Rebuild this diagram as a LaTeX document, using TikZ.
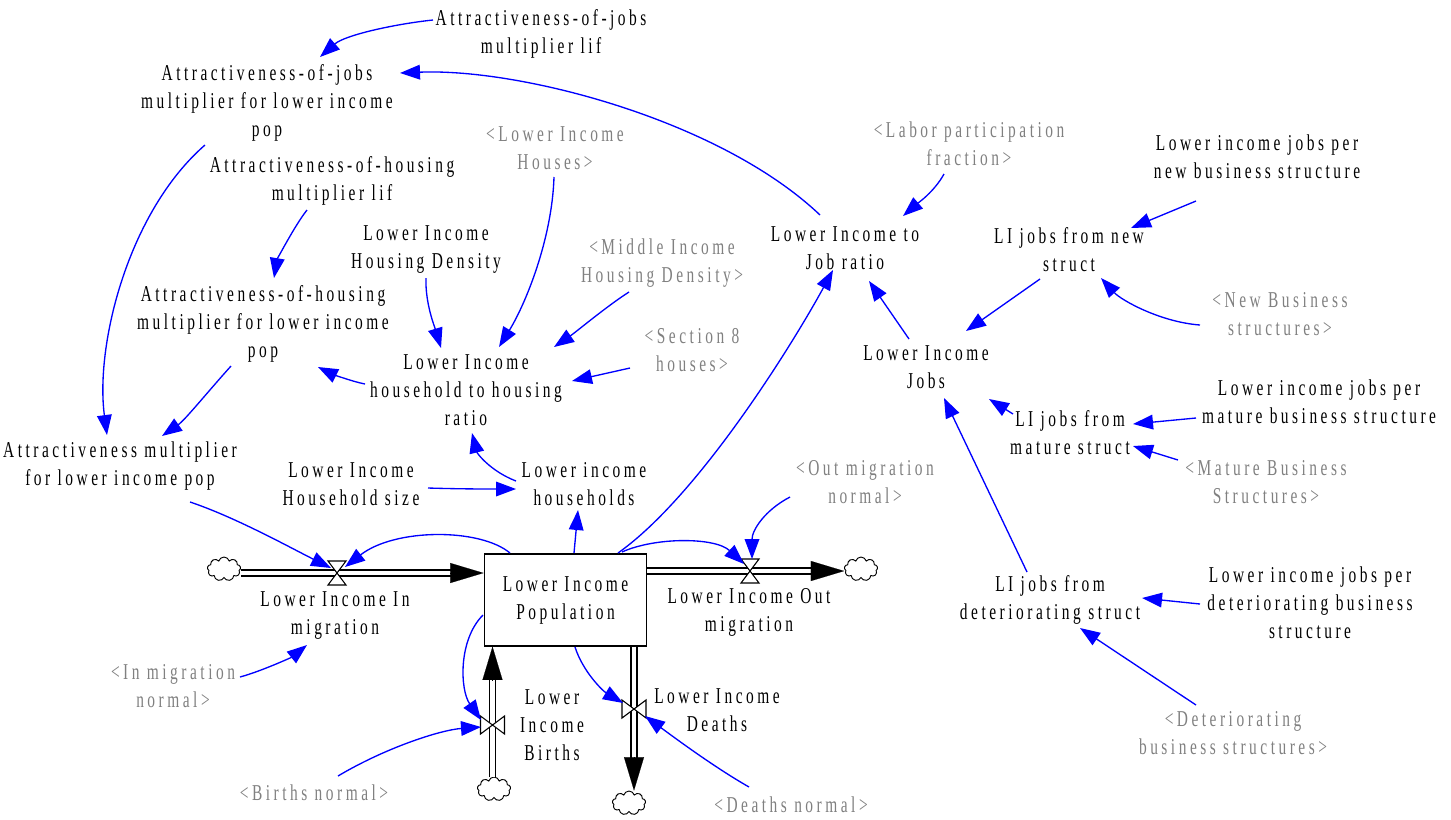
\documentclass[tikz,border=0pt]{standalone}
\usepackage{fontspec}
\setmainfont{Liberation Serif}[FakeStretch=0.68,LetterSpace=15.5]
\usetikzlibrary{arrows.meta,calc,shapes.symbols}
\definecolor{linkblue}{RGB}{0,0,255}
\definecolor{ghostgray}{RGB}{128,128,128}
\begin{document}
\begin{tikzpicture}[x=0.75pt,y=-0.75pt,
  every node/.style={font=\fontsize{17pt}{21pt}\selectfont, align=center, inner sep=1pt},
  var/.style={text=black},
  ghost/.style={text=ghostgray},
  stockbox/.style={draw, line width=0.9pt, minimum width=122pt, minimum height=69pt},
  cloudnode/.style={cloud, draw, cloud puffs=9, aspect=1.4, minimum width=25pt, minimum height=18pt, inner sep=0pt, line width=0.7pt},
  pipe/.style={draw, line width=0.85pt, double=white, double distance=3.6pt},
  flowhead/.style={-{Triangle[length=25pt,width=15pt]}, line width=0.1pt},
  valve/.style={draw, fill=white, line width=0.8pt},
  link/.style={draw=linkblue, line width=1pt, -{Triangle[length=15pt,width=11pt]}},
]
\useasboundingbox (0,0) rectangle (1451,819);

% ---------- auxiliary variables ----------
\node[var] (ajl) at (541,34) {Attractiveness-of-jobs\\multiplier lif};
\node[var] (ajm) at (267,103) {Attractiveness-of-jobs\\multiplier for lower income\\pop};
\node[var] (ahl) at (332,181) {Attractiveness-of-housing\\multiplier lif};
\node[var] (ahm) at (263,324) {Attractiveness-of-housing\\multiplier for lower income\\pop};
\node[var] (am) at (120,466) {Attractiveness multiplier\\for lower income pop};
\node[ghost] (lih) at (555,148) {<Lower Income\\Houses>};
\node[var] (lihd) at (426,250) {Lower Income\\Housing Density};
\node[ghost] (mihd) at (662,263) {<Middle Income\\Housing Density>};
\node[ghost] (s8) at (692,350) {<Section 8\\houses>};
\node[var] (hr) at (466,390) {Lower Income\\household to housing\\ratio};
\node[var] (hs) at (351,484) {Lower Income\\Household size};
\node[var] (lh) at (584,484) {Lower income\\households};
\node[var] (jr) at (845,248) {Lower Income to\\Job ratio};
\node[ghost] (lpf) at (969,144) {<Labor participation\\fraction>};
\node[var] (ljn) at (1257,157) {Lower income jobs per\\new business structure};
\node[var] (njs) at (1069,250) {LI jobs from new\\struct};
\node[ghost] (nbs) at (1280,314) {<New Business\\structures>};
\node[var] (jobs) at (926,367) {Lower Income\\Jobs};
\node[var] (ljm) at (1319,402) {Lower income jobs per\\mature business structure};
\node[var] (mjs) at (1070,433) {LI jobs from\\mature struct};
\node[ghost] (mbs) at (1266,482) {<Mature Business\\Structures>};
\node[ghost] (omn) at (865,482) {<Out migration\\normal>};
\node[var] (djs) at (1050,600) {LI jobs from\\deteriorating struct};
\node[var] (ljd) at (1310,603) {Lower income jobs per\\deteriorating business\\structure};
\node[ghost] (dbs) at (1233,733) {<Deteriorating\\business structures>};
\node[ghost] (imn) at (173,686) {<In migration\\normal>};
\node[ghost] (bn) at (314,793) {<Births normal>};
\node[ghost] (dn) at (791,805) {<Deaths normal>};

% ---------- stock, clouds and flows ----------
\node[stockbox] (stock) at (565.5,600) {Lower Income\\Population};
\node[cloudnode] (cin) at (224,569) {};
\node[cloudnode] (cout) at (861,569) {};
\node[cloudnode] (cb) at (494,789) {};
\node[cloudnode] (cd) at (629,803) {};
\coordinate (vin) at (337,573);
\coordinate (vout) at (750,571);
\coordinate (vb) at (492.5,725);
\coordinate (vd) at (634,709);

\draw[pipe] (cin.east |- vin) -- ($(stock.west |- vin)+(-31,0)$);
\draw[flowhead] ($(stock.west |- vin)+(-33,0)$) -- (stock.west |- vin);
\draw[pipe] (stock.east |- vout) -- ($(cout.west |- vout)+(-31,0)$);
\draw[flowhead] ($(cout.west |- vout)+(-33,0)$) -- (cout.west |- vout);
\draw[pipe] (cb.north -| vb) -- ($(stock.south -| vb)+(0,31)$);
\draw[flowhead] ($(stock.south -| vb)+(0,33)$) -- (stock.south -| vb);
\draw[pipe] (stock.south -| vd) -- ($(cd.north -| vd)+(0,-31)$);
\draw[flowhead] ($(cd.north -| vd)+(0,-33)$) -- (cd.north -| vd);

\draw[valve] ($(vin)+(-9,-12)$) -- ($(vin)+(9,-12)$) -- ($(vin)+(-9,12)$) -- ($(vin)+(9,12)$) -- cycle;
\draw[valve] ($(vout)+(-9,-12)$) -- ($(vout)+(9,-12)$) -- ($(vout)+(-9,12)$) -- ($(vout)+(9,12)$) -- cycle;
\draw[valve] ($(vb)+(-12,-9)$) -- ($(vb)+(-12,9)$) -- ($(vb)+(12,-9)$) -- ($(vb)+(12,9)$) -- cycle;
\draw[valve] ($(vd)+(-12,-9)$) -- ($(vd)+(-12,9)$) -- ($(vd)+(12,-9)$) -- ($(vd)+(12,9)$) -- cycle;

\node[var] (lin) at (335,616) {Lower Income In\\migration};
\node[var] (lout) at (749,612) {Lower Income Out\\migration};
\node[var] (lbir) at (552,725) {Lower\\Income\\Births};
\node[var] (ldea) at (717,710) {Lower Income\\Deaths};

% ---------- causal links ----------
\draw[link] ($(ajl)+(-108,-14)$) .. controls ($(ajl)+(-146,-10)$) and ($(ajm)+(78,-68)$) .. ($(ajm)+(53,-46)$);
\draw[link] ($(jr)+(-25,-33)$) .. controls ($(jr)+(-125,-128)$) and ($(ajm)+(253,-35)$) .. ($(ajm)+(133,-30)$);
\draw[link] ($(ajm)+(-62,42)$) .. controls ($(ajm)+(-139,109)$) and ($(am)+(-25,-121)$) .. ($(am)+(-13,-31)$);
\draw[link] ($(ahl)+(-25,29)$) .. controls ($(ahl)+(-37,44)$) and ($(ahm)+(14,-64)$) .. ($(ahm)+(11,-46)$);
\draw[link] ($(ahm)+(-32,42)$) .. controls ($(ahm)+(-58,71)$) and ($(am)+(65,-46)$) .. ($(am)+(42,-30)$);
\draw[link] ($(hr)+(-101,-6)$) .. controls ($(hr)+(-116,-9)$) and ($(ahm)+(67,49)$) .. ($(ahm)+(55,43)$);
\draw[link] ($(lihd)+(0,28)$) .. controls ($(lihd)+(-1,53)$) and ($(hr)+(-31,-62)$) .. ($(hr)+(-25,-42)$);
\draw[link] ($(lih)+(-1,29)$) .. controls ($(lih)+(-3,92)$) and ($(hr)+(59,-85)$) .. ($(hr)+(33,-43)$);
\draw[link] ($(mihd)+(-33,29)$) .. controls ($(mihd)+(-55,43)$) and ($(hr)+(110,-58)$) .. ($(hr)+(88,-43)$);
\draw[link] ($(s8)+(-62,18)$) -- ($(hr)+(106,-9)$);
\draw[link] ($(lh)+(-68,-3)$) .. controls ($(lh)+(-94,-13)$) and ($(hr)+(11,63)$) .. ($(hr)+(6,43)$);
\draw[link] ($(hs)+(77,4)$) .. controls ($(hs)+(109,5)$) and ($(lh)+(-98,5)$) .. ($(lh)+(-68,5)$);
\draw[link] ($(stock)+(8.5,-47)$) -- ($(lh)+(-6,26)$);
\draw[link] ($(stock)+(52.5,-47)$) .. controls ($(stock)+(134.5,-105)$) and ($(jr)+(-50,92)$) .. ($(jr)+(-12,22)$);
\draw[link] ($(stock)+(-55.5,-47)$) .. controls ($(stock)+(-85.5,-72)$) and ($(vin)+(58,-45)$) .. ($(vin)+(8,-6)$);
\draw[link] ($(stock)+(56.5,-48)$) .. controls ($(stock)+(89.5,-63)$) and ($(vout)+(-35,-34)$) .. ($(vout)+(-6,-7)$);
\draw[link] ($(omn)+(-75,15)$) .. controls ($(omn)+(-100,28)$) and ($(vout)+(2,-41)$) .. ($(vout)+(2,-12)$);
\draw[link] ($(am)+(70,36)$) .. controls ($(am)+(115,51)$) and ($(vin)+(-46,-25)$) .. ($(vin)+(-6,-5)$);
\draw[link] ($(imn)+(67,-9)$) .. controls ($(imn)+(89,-15)$) and ($(lin)+(-43,41)$) .. ($(lin)+(-28,29)$);
\draw[link] ($(stock)+(-82.5,15)$) .. controls ($(stock)+(-107.5,40)$) and ($(vb)+(-32.5,-35)$) .. ($(vb)+(-11.5,-5)$);
\draw[link] ($(bn)+(24,-17)$) .. controls ($(bn)+(71,-45)$) and ($(vb)+(-52.5,5)$) .. ($(vb)+(-11.5,2)$);
\draw[link] ($(stock)+(9.5,47)$) .. controls ($(stock)+(17.5,72)$) and ($(vd)+(-31,-18)$) .. ($(vd)+(-11,-6)$);
\draw[link] ($(dn)+(-42,-18)$) .. controls ($(dn)+(-77,-38)$) and ($(vd)+(41,29)$) .. ($(vd)+(11,7)$);
\draw[link] ($(lpf)+(-25,30)$) .. controls ($(lpf)+(-35,48)$) and ($(jr)+(73,-45)$) .. ($(jr)+(58,-32)$);
\draw[link] ($(jobs)+(-17,-28)$) -- ($(jr)+(24,33)$);
\draw[link] ($(ljn)+(-61,44)$) -- ($(njs)+(62,-22)$);
\draw[link] ($(nbs)+(-80,11)$) .. controls ($(nbs)+(-120,8)$) and ($(njs)+(52,50)$) .. ($(njs)+(32,28)$);
\draw[link] ($(njs)+(-29,29)$) -- ($(jobs)+(40,-36)$);
\draw[link] ($(mjs)+(-57,-19)$) -- ($(jobs)+(63,32)$);
\draw[link] ($(ljm)+(-123,16)$) -- ($(mjs)+(63,-9)$);
\draw[link] ($(mbs)+(-88,-22)$) -- ($(mjs)+(63,13)$);
\draw[link] ($(djs)+(-23,-28)$) -- ($(jobs)+(18,31)$);
\draw[link] ($(ljd)+(-110,1)$) -- ($(djs)+(92,-2)$);
\draw[link] ($(dbs)+(-37,-28)$) -- ($(djs)+(30,28)$);
\end{tikzpicture}
\end{document}
